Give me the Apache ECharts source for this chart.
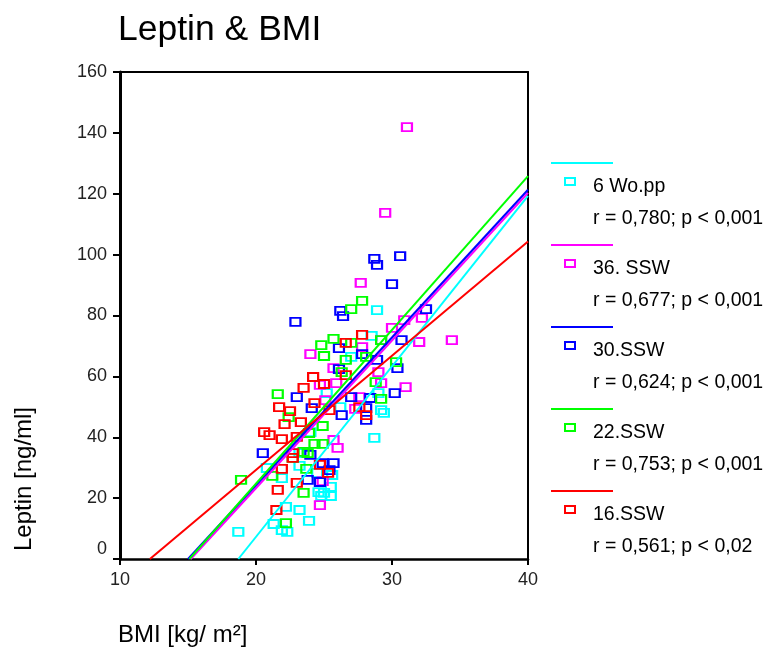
<!DOCTYPE html>
<html><head><meta charset="utf-8">
<script src="https://cdn.jsdelivr.net/npm/echarts@6/dist/echarts.min.js"></script>
<style>html,body{margin:0;padding:0;background:#fff}#c{width:766px;height:657px}</style>
</head><body><div id="c"></div>
<script>
// ---- data ----
const titleText = 'Leptin & BMI';
const xAxisName = 'BMI [kg/ m²]';
const yAxisName = 'Leptin [ng/ml]';
const groupNames = ['6 Wo.pp', '36. SSW', '30.SSW', '22.SSW', '16.SSW'];
const groupStats = ['r = 0,780; p < 0,001', 'r = 0,677; p < 0,001', 'r = 0,624; p < 0,001', 'r = 0,753; p < 0,001', 'r = 0,561; p < 0,02'];

const woppPoints = [[18.7,8.9],[28.9,81.8],[28.5,73.3],[28.7,39.8],[29.2,48.9],[29.4,48.0],[23.9,12.5],[23.2,16.1],[24.6,22.0],[25.5,20.7],[25.5,23.7],[20.8,29.9],[21.9,26.6],[21.3,11.5],[21.9,9.5],[22.3,8.9],[22.2,17.1],[23.2,30.6],[24.0,41.7],[24.5,28.3],[25.0,21.7],[25.2,54.5],[27.0,66.4],[26.2,49.9],[29.0,54.5],[24.8,20.7],[25.6,27.6],[23.2,34.8]];
const ssw36Points = [[31.1,141.9],[29.5,113.7],[27.7,90.7],[30.9,78.5],[32.2,79.2],[30.0,75.9],[27.8,69.6],[29.2,71.9],[32.0,71.3],[34.4,71.9],[24.0,67.3],[24.7,57.2],[25.7,62.7],[29.0,61.4],[25.9,57.8],[29.2,57.8],[31.0,56.5],[27.6,53.2],[25.1,52.2],[27.3,49.3],[25.7,39.1],[26.0,36.5],[24.7,17.7],[24.9,25.6]];
const ssw30Points = [[20.5,34.8],[22.9,77.9],[23.0,53.2],[24.1,49.6],[24.0,34.2],[24.9,31.5],[23.8,26.0],[24.7,25.3],[25.7,31.5],[25.4,29.2],[26.1,69.3],[27.8,67.3],[28.9,65.4],[26.1,62.4],[30.4,62.7],[27.0,53.2],[28.4,52.9],[30.2,54.5],[26.3,47.3],[28.1,49.6],[28.1,45.7],[30.7,71.9],[28.7,98.6],[28.9,96.6],[30.6,99.5],[30.0,90.3],[26.2,81.5],[26.4,79.8],[32.5,82.1]];
const ssw22Points = [[18.9,26.0],[21.2,27.3],[22.2,11.8],[22.4,46.6],[21.6,54.2],[24.8,70.3],[25.0,66.7],[23.9,41.4],[22.7,33.2],[24.3,37.8],[24.9,37.8],[23.5,35.2],[23.7,29.6],[23.5,21.7],[24.9,43.7],[25.7,72.3],[27.0,71.0],[26.6,65.4],[28.1,66.4],[26.3,61.4],[28.8,58.1],[29.2,52.6],[27.8,84.8],[27.0,82.1],[29.2,71.9],[30.3,64.7],[23.8,34.8]];
const ssw16Points = [[20.6,41.7],[21.0,40.7],[21.9,39.4],[23.0,40.1],[21.7,49.9],[22.5,48.6],[22.1,44.3],[23.3,45.0],[23.5,56.2],[24.2,59.8],[25.0,57.5],[24.3,51.2],[21.9,29.6],[21.6,22.7],[21.5,16.1],[22.7,34.8],[22.7,33.2],[23.0,25.0],[24.7,30.9],[25.3,28.3],[27.8,73.6],[26.6,71.0],[26.6,60.4],[25.4,48.9],[27.6,49.9],[28.1,47.3]];

// regression line end points
const woppLine  = [[18.7,0],[40,119.3]];
const ssw36Line = [[15.2,0],[40,120.3]];
const ssw30Line = [[15.0,0],[40,121.3]];
const ssw22Line = [[15.1,0],[40,125.8]];
const ssw16Line = [[12.2,0],[40,104.3]];

const xTicks = {min: 10, max: 40, step: 10};
const yTicks = {min: 0, max: 160, step: 20};

// ---- styling ----
const colors = ['#00FFFF', '#FF00FF', '#0000FF', '#00FF00', '#FF0000'];
const FONT = '"Liberation Sans", Arial, sans-serif';
const pointSets = [woppPoints, ssw36Points, ssw30Points, ssw22Points, ssw16Points];
const lineSets = [woppLine, ssw36Line, ssw30Line, ssw22Line, ssw16Line];

const chart = echarts.init(document.getElementById('c'), null, {renderer: 'canvas'});

const series = [];
pointSets.forEach((pts, i) => {
  series.push({
    type: 'scatter', name: groupNames[i], data: pts,
    symbol: 'rect', symbolSize: [10, 8],
    itemStyle: {color: 'rgba(0,0,0,0)', borderColor: colors[i], borderWidth: 2, opacity: 1},
    emphasis: {disabled: true}, z: 2
  });
});
[0, 1, 2, 3, 4].forEach(i => {
  series.push({
    type: 'line', name: groupNames[i] + ' fit', data: lineSets[i],
    showSymbol: false, symbol: 'none',
    lineStyle: {color: colors[i], width: 2},
    emphasis: {disabled: true}, z: 3, clip: true
  });
});

const graphics = [
  {type: 'text', left: 118, top: 12, style: {text: titleText, font: '35.5px ' + FONT, fill: '#000'}},
  {type: 'text', left: 118, top: 623, style: {text: xAxisName, font: '24px ' + FONT, fill: '#000'}},
  {type: 'text', x: 24, y: 479, rotation: Math.PI / 2,
   style: {text: yAxisName, font: '24px ' + FONT, fill: '#000', align: 'center', verticalAlign: 'middle'}}
];
groupNames.forEach((name, i) => {
  const y0 = 163 + 82 * i;
  graphics.push({type: 'line', shape: {x1: 551, y1: y0, x2: 613, y2: y0}, style: {stroke: colors[i], lineWidth: 2}});
  graphics.push({type: 'rect', shape: {x: 565, y: y0 + 15, width: 10, height: 7}, style: {fill: 'none', stroke: colors[i], lineWidth: 2}});
  graphics.push({type: 'text', x: 593, y: y0 + 24, style: {text: name, font: '19.5px ' + FONT, fill: '#000', verticalAlign: 'middle'}});
  graphics.push({type: 'text', x: 593, y: y0 + 56, style: {text: groupStats[i], font: '19.5px ' + FONT, fill: '#000', verticalAlign: 'middle'}});
});

chart.setOption({
  animation: false,
  backgroundColor: '#fff',
  grid: {left: 120, right: 238, top: 72, bottom: 98, containLabel: false},
  xAxis: [{
    type: 'value', min: xTicks.min, max: xTicks.max, interval: xTicks.step, position: 'bottom',
    axisLine: {show: true, onZero: false, lineStyle: {color: '#000', width: 2.5}},
    axisTick: {show: true, length: 6, lineStyle: {color: '#000', width: 2}},
    axisLabel: {color: '#222', fontSize: 18, fontFamily: FONT, margin: 12},
    splitLine: {show: false}
  }, {
    type: 'value', min: xTicks.min, max: xTicks.max, position: 'top',
    axisLine: {show: true, onZero: false, lineStyle: {color: '#000', width: 2}},
    axisTick: {show: false}, axisLabel: {show: false}, splitLine: {show: false}
  }],
  yAxis: [{
    type: 'value', min: yTicks.min, max: yTicks.max, interval: yTicks.step, position: 'left',
    axisLine: {show: true, onZero: false, lineStyle: {color: '#000', width: 3}},
    axisTick: {show: true, length: 7, lineStyle: {color: '#000', width: 2}},
    axisLabel: {
      color: '#222', fontSize: 18, fontFamily: FONT, margin: 13,
      formatter: v => v === 0 ? '{z|0}' : String(v),
      rich: {z: {fontSize: 18, fontFamily: FONT, color: '#222', padding: [0, 0, 20, 0]}}
    },
    splitLine: {show: false}
  }, {
    type: 'value', min: yTicks.min, max: yTicks.max, position: 'right',
    axisLine: {show: true, onZero: false, lineStyle: {color: '#000', width: 2}},
    axisTick: {show: false}, axisLabel: {show: false}, splitLine: {show: false}
  }],
  series: series,
  graphic: graphics
});
</script></body></html>
